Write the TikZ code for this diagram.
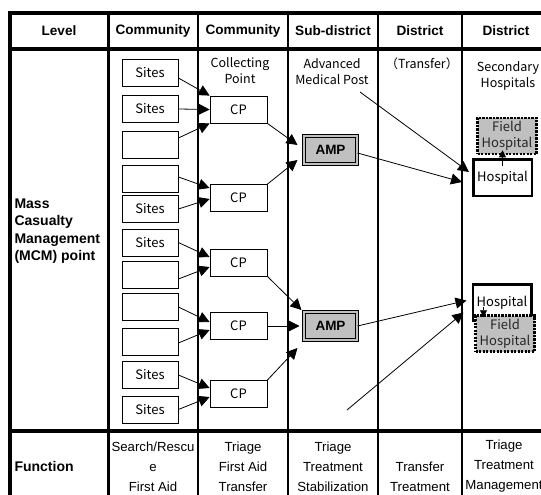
\documentclass[tikz,border=0pt]{standalone}
\usepackage{fontspec}
\setmainfont{Liberation Sans}
\newfontfamily\gothic{Noto Sans CJK JP}
\usetikzlibrary{arrows.meta,calc}
\definecolor{boxgray}{HTML}{C0C0C0}
\begin{document}
\begin{tikzpicture}[x=1pt,y=-1pt,
  thickrule/.style={line width=3.4pt},
  hdr/.style={font=\fontsize{13.6}{16}\selectfont\bfseries},
  side/.style={font=\fontsize{14}{17.5}\selectfont\bfseries, align=left, anchor=west},
  func/.style={font=\fontsize{13.2}{20}\selectfont, align=center},
  lbl/.style={font=\gothic\fontsize{12.5}{16}\selectfont, align=center},
  site/.style={draw, line width=0.8pt, minimum width=56pt, minimum height=27pt,
    inner sep=0pt, font=\gothic\fontsize{13}{15}\selectfont},
  cpbox/.style={site, minimum width=57pt},
  amp/.style={draw, double=boxgray, double distance=2pt, line width=1pt, fill=boxgray,
    minimum width=53pt, minimum height=28pt, inner sep=0pt,
    font=\fontsize{13.5}{16}\selectfont\bfseries},
  hosp/.style={draw, line width=2.5pt, fill=white, minimum width=58.5pt,
    minimum height=36.5pt, inner sep=0pt, font=\gothic\fontsize{13}{15}\selectfont},
  field/.style={draw, fill=boxgray, line width=2.5pt, dash pattern=on 2.2pt off 1.3pt,
    minimum width=59pt, minimum height=36pt, inner sep=0pt, align=center,
    text=black!85, font=\gothic\fontsize{13}{16}\selectfont},
  arr/.style={-{Triangle[length=11pt,width=11pt]}, line width=0.8pt},
  smallarr/.style={-{Triangle[length=7pt,width=7pt]}, line width=0.8pt}]
\useasboundingbox (0,0) rectangle (541,495);

% table rules
\draw[thickrule] (560,13) -- (10,13) -- (10,500);
\draw[thickrule] (10,49) -- (560,49);
\draw[thickrule] (10,431) -- (560,431);
\draw[line width=3pt] (108,13) -- (108,500);
\draw[line width=1.8pt] (198,13) -- (198,500);
\draw[line width=2.2pt] (288,13) -- (288,500);
\draw[line width=2.4pt] (378,13) -- (378,500);
\draw[line width=2.2pt] (462,13) -- (462,500);

% header row
\node[hdr] (hLevel) at (59,31) {Level};
\node[hdr] (hComA) at (153,31) {Community};
\node[hdr] (hComB) at (243,31) {Community};
\node[hdr] (hSub) at (333,31) {Sub-district};
\node[hdr] (hDisA) at (420,31) {District};
\node[hdr] (hDisB) at (506,31) {District};

% left column
\node[side] (mcm) at (11,231) {Mass\\Casualty\\Management\\(MCM) point};
\node[side] (fn) at (11,466) {Function};

% column labels
\node[lbl] (cpLabel) at (240,70.5) {Collecting\\Point};
\node[lbl] (ampLabel) at (332,71.5) {Advanced\\Medical Post};
\node[lbl] (trLabel) at (422,64) {（Transfer）};
\node[lbl] (secLabel) at (508,76) {Secondary\\Hospitals};

% sites
\node[site] (s1) at (150,73) {Sites};
\node[site] (s2) at (150,109) {Sites};
\node[site] (s3) at (150,145) {};
\node[site] (s4) at (150,178.5) {};
\node[site] (s5) at (150,209) {Sites};
\node[site] (s6) at (150,242.5) {Sites};
\node[site] (s7) at (150,275) {};
\node[site] (s8) at (150,307) {};
\node[site] (s9) at (150,341.5) {};
\node[site] (s10) at (150,375) {Sites};
\node[site] (s11) at (150,409.5) {Sites};

% collecting points
\node[cpbox] (cp1) at (238.5,109.5) {CP};
\node[cpbox] (cp2) at (238.5,198) {CP};
\node[cpbox] (cp3) at (238.5,262.5) {CP};
\node[cpbox] (cp4) at (238.5,326) {CP};
\node[cpbox] (cp5) at (238.5,394) {CP};

% advanced medical posts
\node[amp] (amp1) at (330.5,150) {AMP};
\node[amp] (amp2) at (330.5,326) {AMP};

% hospitals
\node[hosp] (hosp1) at (502.5,177.5) {Hospital};
\node[field] (field1) at (507,136) {Field\\Hospital};
\node[hosp] (hosp2) at (502,302.5) {Hospital};
\node[field] (field2) at (505,333.5) {Field\\Hospital};

% free ends of the long transfer lines
\coordinate (ampNote) at (360,92);
\coordinate (lowStart) at (347,410);

% sites to collecting points
\draw[arr] ([yshift=-5pt]s1.east) -- (cp1.north west);
\draw[arr] (s2.east) -- (cp1.west);
\draw[arr] ([yshift=7pt]s3.east) -- (cp1.south west);
\draw[arr] ([yshift=1.5pt]s4.east) -- ([yshift=10pt]cp2.west);
\draw[arr] (s5.east) -- ([yshift=-1pt]cp2.west);
\draw[arr] (s6.east) -- ([yshift=5.5pt]cp3.west);
\draw[arr] ([yshift=-4pt]s7.east) -- ([yshift=-4.5pt]cp3.west);
\draw[arr] (s8.east) -- ([yshift=4pt]cp4.west);
\draw[arr] ([yshift=-1.5pt]s9.east) -- ([yshift=-4pt]cp4.west);
\draw[arr] (s10.east) -- ([yshift=6pt]cp5.west);
\draw[arr] (s11.east) -- ([yshift=-3pt]cp5.west);

% collecting points to AMPs
\draw[arr] (cp1.south east) -- ([xshift=-6pt,yshift=5pt]amp1.west);
\draw[arr] (cp2.north east) -- ([xshift=-6pt,yshift=-10pt]amp1.west);
\draw[arr] (cp3.south east) -- ([xshift=-2pt,yshift=16pt]amp2.west);
\draw[arr] (cp4.east) -- ([xshift=-4pt]amp2.west);
\draw[arr] (cp5.north east) -- ([xshift=-6pt,yshift=-22pt]amp2.west);

% transfer to secondary hospitals
\draw[arr] ([yshift=-3pt]amp1.east) -- ([xshift=-10pt,yshift=-4.5pt]hosp1.west);
\draw[arr] (ampNote) -- ([xshift=-3pt,yshift=5.5pt]hosp1.west);
\draw[arr] (amp2.east) -- ([xshift=-5pt,yshift=2pt]hosp2.west);
\draw[arr] (lowStart) -- ([xshift=-8pt,yshift=-10pt]hosp2.west);

% hospitals to field hospitals
\draw[smallarr] ([yshift=-8pt]hosp1.north) -- ($(field1.south -| hosp1.north)+(0,-5)$);
\draw[smallarr] ($(hosp2.north west)+(12,24)$) -- ($(field2.north -| hosp2.north west)+(12,3)$);

% function row
\node[func] (fA) at (153,466.5) {Search/Rescu\\e\\First Aid};
\node[func] (fB) at (243,466.5) {Triage\\First Aid\\Transfer};
\node[func] (fC) at (333,466.5) {Triage\\Treatment\\Stabilization};
\node[func] (fD) at (420,476.5) {Transfer\\Treatment};
\node[func] (fE) at (504,466.5) {Triage\\Treatment\\Management};
\end{tikzpicture}
\end{document}
